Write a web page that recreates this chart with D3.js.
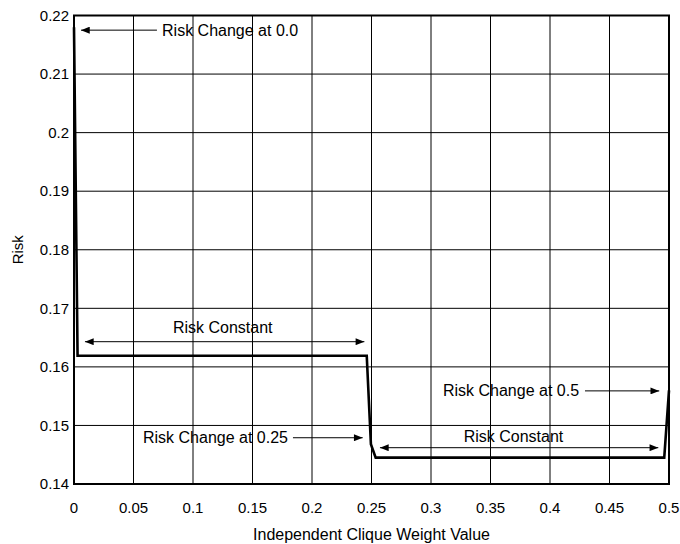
<!DOCTYPE html>
<html>
<head>
<meta charset="utf-8">
<script src="https://cdn.jsdelivr.net/npm/d3@7"></script>
<style>
  body { margin: 0; background: #fff; }
  text { font-family: "Liberation Sans", Arial, sans-serif; fill: #000; }
</style>
</head>
<body>
<div id="chart"></div>
<script>
// data
const weights = [0, 0.003, 0.246, 0.2495, 0.2535, 0.496, 0.5];
const risk = [0.218, 0.1619, 0.1619, 0.1468, 0.1445, 0.1445, 0.156];

const xTicks = [0, 0.05, 0.1, 0.15, 0.2, 0.25, 0.3, 0.35, 0.4, 0.45, 0.5];
const yTicks = [0.14, 0.15, 0.16, 0.17, 0.18, 0.19, 0.2, 0.21, 0.22];

// annotations, in data units
const arrows = [
  { x1: 0.0697, x2: 0.0059, y: 0.2175, both: false },
  { x1: 0.0092, x2: 0.244, y: 0.1643, both: true },
  { x1: 0.184, x2: 0.2426, y: 0.1479, both: false },
  { x1: 0.4294, x2: 0.4918, y: 0.1559, both: false },
  { x1: 0.2571, x2: 0.491, y: 0.1462, both: true }
];
const labels = [
  { text: "Risk Change at 0.0", x: 0.074, y: 0.2175, anchor: "start" },
  { text: "Risk Constant", x: 0.125, y: 0.1668, anchor: "middle" },
  { text: "Risk Change at 0.25", x: 0.1798, y: 0.1479, anchor: "end" },
  { text: "Risk Change at 0.5", x: 0.4244, y: 0.1559, anchor: "end" },
  { text: "Risk Constant", x: 0.3693, y: 0.1482, anchor: "middle" }
];

const width = 680, height = 544;
const margin = { top: 15.5, right: 11, bottom: 60, left: 74 };

const svg = d3.select("#chart").append("svg")
  .attr("width", width)
  .attr("height", height);

svg.append("rect").attr("width", width).attr("height", height).attr("fill", "#fff");

const x = d3.scaleLinear().domain([0, 0.5]).range([margin.left, width - margin.right]);
const y = d3.scaleLinear().domain([0.14, 0.22]).range([height - margin.bottom, margin.top]);

// grid
svg.append("g").selectAll("line.vgrid").data(xTicks).join("line")
  .attr("x1", d => x(d)).attr("x2", d => x(d))
  .attr("y1", y(0.14)).attr("y2", y(0.22))
  .attr("stroke", "#000").attr("stroke-width", 1);
svg.append("g").selectAll("line.hgrid").data(yTicks).join("line")
  .attr("x1", x(0)).attr("x2", x(0.5))
  .attr("y1", d => y(d)).attr("y2", d => y(d))
  .attr("stroke", "#000").attr("stroke-width", 1);

// tick labels
svg.append("g").selectAll("text").data(xTicks).join("text")
  .attr("x", d => x(d)).attr("y", y(0.14) + 29)
  .attr("text-anchor", "middle")
  .style("font-size", "15px")
  .text(d => d3.format("~g")(d));
svg.append("g").selectAll("text").data(yTicks).join("text")
  .attr("x", x(0) - 5).attr("y", d => y(d)).attr("dy", "0.35em")
  .attr("text-anchor", "end")
  .style("font-size", "15px")
  .text(d => d3.format("~g")(d));

// axis titles
svg.append("text")
  .attr("x", (x(0) + x(0.5)) / 2).attr("y", height - 4)
  .attr("text-anchor", "middle")
  .style("font-size", "16px")
  .text("Independent Clique Weight Value");
svg.append("text")
  .attr("transform", "translate(23," + (y(0.14) + y(0.22)) / 2 + ") rotate(-90)")
  .attr("text-anchor", "middle")
  .style("font-size", "15px")
  .text("Risk");

// arrowheads
const defs = svg.append("defs");
defs.append("marker")
  .attr("id", "head")
  .attr("viewBox", "0 0 10 8")
  .attr("refX", 10).attr("refY", 4)
  .attr("markerUnits", "userSpaceOnUse")
  .attr("markerWidth", 11).attr("markerHeight", 7)
  .attr("orient", "auto-start-reverse")
  .append("path").attr("d", "M0,0L10,4L0,8Z").attr("fill", "#000");

svg.append("g").selectAll("line").data(arrows).join("line")
  .attr("x1", d => x(d.x1)).attr("x2", d => x(d.x2))
  .attr("y1", d => y(d.y)).attr("y2", d => y(d.y))
  .attr("stroke", "#000").attr("stroke-width", 1)
  .attr("marker-end", "url(#head)")
  .attr("marker-start", d => d.both ? "url(#head)" : null);

svg.append("g").selectAll("text").data(labels).join("text")
  .attr("x", d => x(d.x)).attr("y", d => y(d.y)).attr("dy", "0.35em")
  .attr("text-anchor", d => d.anchor)
  .style("font-size", "16px")
  .text(d => d.text);

// risk curve
const line = d3.line().x((d, i) => x(weights[i])).y(d => y(d));
svg.append("path")
  .datum(risk)
  .attr("d", line)
  .attr("fill", "none")
  .attr("stroke", "#000")
  .attr("stroke-width", 2.6)
  .attr("stroke-linejoin", "miter");

// frame
svg.append("rect")
  .attr("x", x(0)).attr("y", y(0.22))
  .attr("width", x(0.5) - x(0)).attr("height", y(0.14) - y(0.22))
  .attr("fill", "none").attr("stroke", "#000").attr("stroke-width", 2);
</script>
</body>
</html>
